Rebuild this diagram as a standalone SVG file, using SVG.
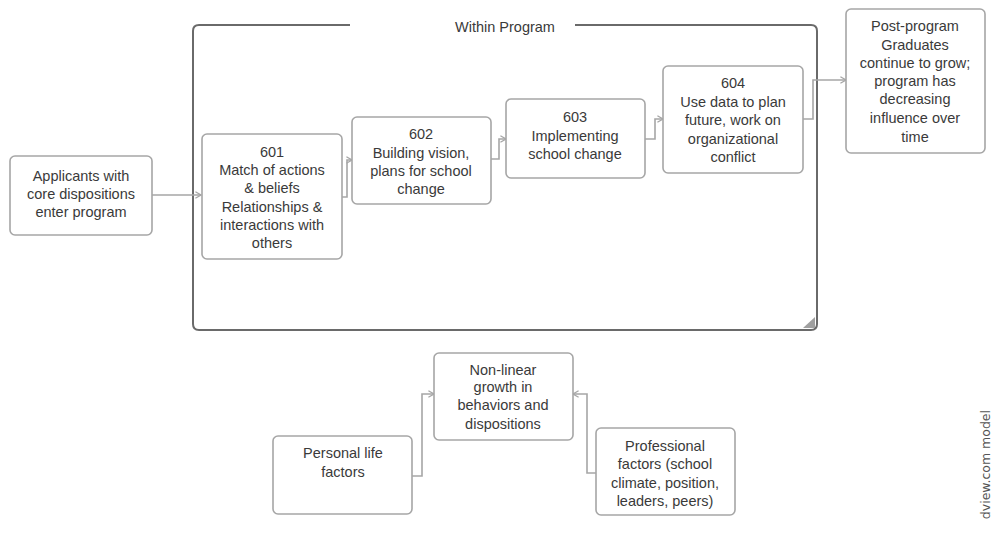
<svg xmlns="http://www.w3.org/2000/svg" width="993" height="535" viewBox="0 0 993 535">
<style>
.box{fill:#fff;stroke:#a6a6a6;stroke-width:1.6}
.t{font-family:"Liberation Sans",Arial,sans-serif;font-size:14.5px;fill:#3a3a3a;text-anchor:middle}
.c{fill:none;stroke:#a6a6a6;stroke-width:1.6;marker-end:url(#ah)}
.frame{fill:none;stroke:#6a6a6a;stroke-width:2}
</style>
<defs>
<marker id="ah" viewBox="0 0 10 10" refX="9" refY="5" markerWidth="8" markerHeight="8" markerUnits="userSpaceOnUse" orient="auto">
<polyline points="2,1 9,5 2,9" fill="none" stroke="#a6a6a6" stroke-width="1.6"/>
</marker>
</defs>
<rect width="993" height="535" fill="#fff"/>
<g id="container">
<path class="frame" d="M350,25 H199 Q193,25 193,31 V324 Q193,330 199,330 H811 Q817,330 817,324 V31 Q817,25 811,25 H575"/>
<polygon points="815,317 815,328 803,328" fill="#a0a0a0"/>
<text class="t" x="505" y="32">Within Program</text>
</g>
<g id="connectors">
<path class="c" d="M152,195 H201"/>
<path class="c" d="M342,197 H347 V160 H352"/>
<path class="c" d="M491,159 H499 V139 H506"/>
<path class="c" d="M645,139 H655 V119 H663"/>
<path class="c" d="M803,119 H813 V80 H846"/>
<path class="c" d="M412,476 H422 V394 H434"/>
<path class="c" d="M596,473 H587 V394 H573"/>
</g>
<g id="applicants">
<rect class="box" x="10" y="156" width="142" height="79" rx="5"/>
<text class="t" x="81" y="181">Applicants with</text>
<text class="t" x="81" y="199">core dispositions</text>
<text class="t" x="81" y="217">enter program</text>
</g>
<g id="n601">
<rect class="box" x="202" y="134" width="140" height="125" rx="5"/>
<text class="t" x="272" y="157">601</text>
<text class="t" x="272" y="175">Match of actions</text>
<text class="t" x="272" y="193">&amp; beliefs</text>
<text class="t" x="272" y="212">Relationships &amp;</text>
<text class="t" x="272" y="230">interactions with</text>
<text class="t" x="272" y="248">others</text>
</g>
<g id="n602">
<rect class="box" x="352" y="117" width="139" height="87" rx="5"/>
<text class="t" x="421" y="139">602</text>
<text class="t" x="421" y="158">Building vision,</text>
<text class="t" x="421" y="176">plans for school</text>
<text class="t" x="421" y="194">change</text>
</g>
<g id="n603">
<rect class="box" x="506" y="99" width="139" height="79" rx="5"/>
<text class="t" x="575" y="122">603</text>
<text class="t" x="575" y="141">Implementing</text>
<text class="t" x="575" y="159">school change</text>
</g>
<g id="n604">
<rect class="box" x="663" y="66" width="140" height="107" rx="5"/>
<text class="t" x="733" y="88">604</text>
<text class="t" x="733" y="107">Use data to plan</text>
<text class="t" x="733" y="125">future, work on</text>
<text class="t" x="733" y="144">organizational</text>
<text class="t" x="733" y="162">conflict</text>
</g>
<g id="post">
<rect class="box" x="846" y="9" width="139" height="144" rx="5"/>
<text class="t" x="915" y="31">Post-program</text>
<text class="t" x="915" y="50">Graduates</text>
<text class="t" x="915" y="68">continue to grow;</text>
<text class="t" x="915" y="86">program has</text>
<text class="t" x="915" y="104">decreasing</text>
<text class="t" x="915" y="123">influence over</text>
<text class="t" x="915" y="142">time</text>
</g>
<g id="nonlinear">
<rect class="box" x="434" y="353" width="139" height="87" rx="5"/>
<text class="t" x="503" y="375">Non-linear</text>
<text class="t" x="503" y="392">growth in</text>
<text class="t" x="503" y="410">behaviors and</text>
<text class="t" x="503" y="429">dispositions</text>
</g>
<g id="personal">
<rect class="box" x="273" y="436" width="139" height="78" rx="5"/>
<text class="t" x="343" y="458">Personal life</text>
<text class="t" x="343" y="477">factors</text>
</g>
<g id="professional">
<rect class="box" x="596" y="428" width="139" height="87" rx="5"/>
<text class="t" x="665" y="451">Professional</text>
<text class="t" x="665" y="469">factors (school</text>
<text class="t" x="665" y="488">climate, position,</text>
<text class="t" x="665" y="506">leaders, peers)</text>
</g>
<text transform="translate(990,410) rotate(-90)" font-family="DejaVu Sans,sans-serif" font-size="12.5" fill="#555" text-anchor="end">dview.com model</text>
</svg>
